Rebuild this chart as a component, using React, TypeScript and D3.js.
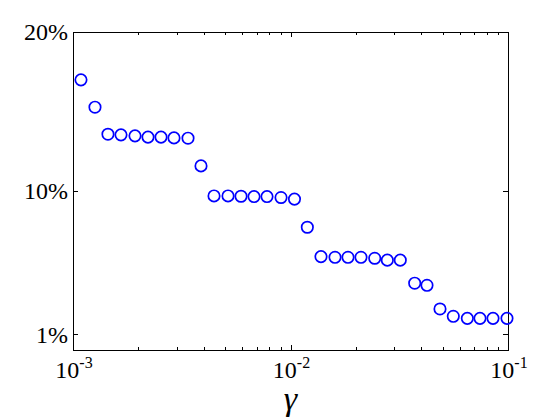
import React, { useRef, useEffect } from 'react';
import * as d3 from 'd3';

// gamma values (x, log scale)
const gammas = [
  1.088e-3, 1.262e-3, 1.448e-3, 1.662e-3, 1.928e-3, 2.212e-3, 2.539e-3, 2.913e-3,
  3.379e-3, 3.877e-3, 4.45e-3, 5.161e-3, 5.922e-3, 6.796e-3, 7.798e-3, 9.045e-3,
  1.043e-2, 1.195e-2, 1.381e-2, 1.602e-2, 1.838e-2, 2.109e-2, 2.439e-2, 2.787e-2,
  3.197e-2, 3.724e-2, 4.242e-2, 4.868e-2, 5.604e-2, 6.501e-2, 7.434e-2, 8.532e-2,
  9.894e-2,
];
// error in percent
const errors = [
  16.99, 15.27, 13.57, 13.53, 13.47, 13.39, 13.39, 13.34,
  13.32, 11.58, 9.69, 9.69, 9.67, 9.65, 9.65, 9.59,
  9.49, 7.72, 5.87, 5.83, 5.83, 5.83, 5.77, 5.65,
  5.65, 4.2, 4.07, 2.58, 2.12, 1.99, 1.99, 1.99,
  1.99,
];
const yTicks = [1, 10, 20];
const xMajor = [1e-3, 1e-2, 1e-1];
const xExp = ['-3', '-2', '-1'];

const App = () => {
  const ref = useRef<SVGSVGElement>(null);

  useEffect(() => {
    const svg = d3.select(ref.current);
    svg.selectAll('*').remove();

    const left = 73, right = 508, top = 32, bottom = 350;
    const font = "'Liberation Serif', 'Times New Roman', serif";

    const x = d3.scaleLog().domain([1e-3, 1e-1]).range([left, right]);
    const y = d3.scaleLinear().domain([0, 20]).range([bottom, top]);

    svg.append('rect')
      .attr('x', left).attr('y', top)
      .attr('width', right - left).attr('height', bottom - top)
      .attr('fill', 'white').attr('stroke', 'black').attr('stroke-width', 1)
      .attr('shape-rendering', 'crispEdges');

    // x ticks (major + minor), inward on bottom and top
    const minor: number[] = [];
    [1e-3, 1e-2].forEach(d => { for (let k = 2; k <= 9; ++k) minor.push(d * k); });
    const g = svg.append('g').attr('stroke', 'black').attr('stroke-width', 1)
      .attr('shape-rendering', 'crispEdges');
    minor.forEach(v => {
      g.append('line').attr('x1', Math.round(x(v)) + 0.5).attr('x2', Math.round(x(v)) + 0.5)
        .attr('y1', bottom).attr('y2', bottom - 3);
      g.append('line').attr('x1', Math.round(x(v)) + 0.5).attr('x2', Math.round(x(v)) + 0.5)
        .attr('y1', top).attr('y2', top + 3);
    });
    xMajor.forEach(v => {
      g.append('line').attr('x1', Math.round(x(v)) + 0.5).attr('x2', Math.round(x(v)) + 0.5)
        .attr('y1', bottom).attr('y2', bottom - 5);
      g.append('line').attr('x1', Math.round(x(v)) + 0.5).attr('x2', Math.round(x(v)) + 0.5)
        .attr('y1', top).attr('y2', top + 5);
    });
    yTicks.forEach(v => {
      g.append('line').attr('x1', left).attr('x2', left + 5)
        .attr('y1', Math.round(y(v)) + 0.5).attr('y2', Math.round(y(v)) + 0.5);
      g.append('line').attr('x1', right).attr('x2', right - 5)
        .attr('y1', Math.round(y(v)) + 0.5).attr('y2', Math.round(y(v)) + 0.5);
    });

    // y tick labels
    svg.append('g').selectAll('text').data(yTicks).join('text')
      .attr('x', left - 5).attr('y', d => y(d))
      .attr('dy', '0.35em')
      .attr('text-anchor', 'end')
      .attr('font-family', font).attr('font-size', 24)
      .text(d => d + '%');

    // x tick labels with superscripts
    xMajor.forEach((v, i) => {
      const t = svg.append('text')
        .attr('x', x(v) + 1).attr('y', 378)
        .attr('text-anchor', 'middle')
        .attr('font-family', font).attr('font-size', 24);
      t.append('tspan').text('10');
      t.append('tspan').attr('dy', -10).attr('font-size', 16).text(xExp[i]);
    });

    // axis label
    svg.append('text')
      .attr('x', x(1e-2)).attr('y', 410)
      .attr('text-anchor', 'middle')
      .attr('font-family', font).attr('font-style', 'italic').attr('font-size', 34)
      .text('γ');

    // points
    svg.append('g').selectAll('circle').data(gammas).join('circle')
      .attr('cx', d => x(d))
      .attr('cy', (d, i) => y(errors[i]))
      .attr('r', 5.7)
      .attr('fill', 'none')
      .attr('stroke', '#0000ff')
      .attr('stroke-width', 1.7);
  }, []);

  return (
    <div>
      <svg ref={ref} width={560} height={420}
        style={{ position: 'absolute', left: 0, top: 0, background: 'white' }} />
    </div>
  );
};

export default App;
